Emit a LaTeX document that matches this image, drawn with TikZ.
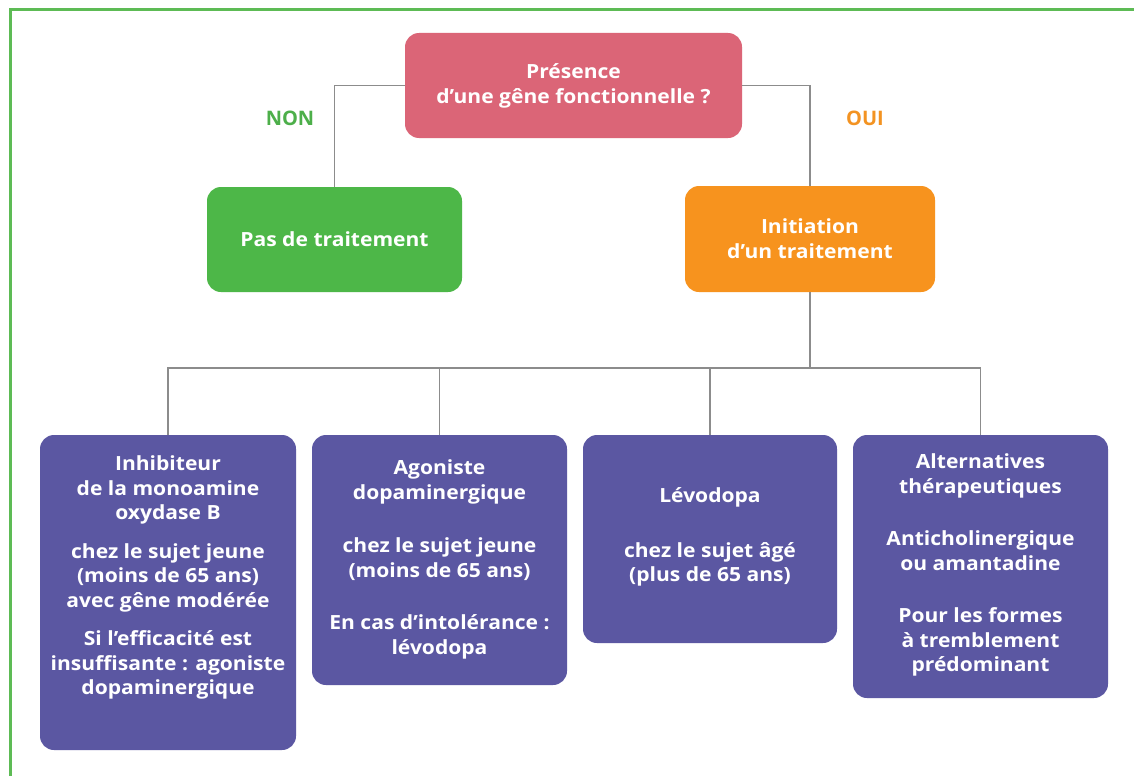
\documentclass[tikz,border=0pt]{standalone}
\usepackage{fontspec}
\setmainfont{Open Sans}
\newfontfamily\boxfont{Open Sans}[FakeStretch=1.08]
\definecolor{pinkbox}{HTML}{DB6577}
\definecolor{greenbox}{HTML}{4DB748}
\definecolor{orangebox}{HTML}{F7931E}
\definecolor{purplebox}{HTML}{5B57A2}
\definecolor{linegray}{HTML}{8C8C8C}
\definecolor{framegreen}{HTML}{5DBB55}
\definecolor{nongreen}{HTML}{4DAF4A}
\definecolor{ouiorange}{HTML}{F39322}
\begin{document}
\begin{tikzpicture}[x=1pt,y=-1pt,
  box/.style={rounded corners=14pt, inner sep=0pt, text=white, align=center,
    font=\boxfont\bfseries\fontsize{19.5}{25}\selectfont},
  topbox/.style={box, minimum width=255pt, minimum height=105pt},
  botbox/.style={box, fill=purplebox, font=\boxfont\bfseries\fontsize{19.5}{24.5}\selectfont},
  conn/.style={draw=linegray, line width=1.4pt},
  answer/.style={font=\bfseries\fontsize{20}{22}\selectfont}]
\useasboundingbox (0,0) rectangle (1134,776);
\fill[white] (0,0) rectangle (1134,776);
% frame
\draw[framegreen, line width=3pt] (10,776) -- (10,10) -- (1134,10);

% top level
\node[box, fill=pinkbox, minimum width=337pt, minimum height=105pt] (q) at (573.5,85.5)
  {Présence\\d’une gêne fonctionnelle ?};
\node[topbox, fill=greenbox] (non) at (334.5,239.5) {Pas de traitement};
\node[topbox, fill=orangebox, minimum width=250pt, minimum height=106pt] (oui) at (810,239)
  {Initiation\\d’un traitement};

\node[answer, text=nongreen] (lnon) at (290,118) {NON};
\node[answer, text=ouiorange] (loui) at (865,118) {OUI};

% bottom boxes
\node[botbox] (b1) at (168,592.5) {\parbox[c][315pt][t]{256pt}{\centering\vspace*{21pt}%
  Inhibiteur\\de la monoamine\\oxydase B\\[14pt]chez le sujet jeune\\(moins de 65 ans)\\avec gêne modérée\\[14pt]Si l’efficacité est\\insuffisante : agoniste\\dopaminergique}};
\node[botbox] (b2) at (439.5,560) {\parbox[c][250pt][t]{255pt}{\centering\vspace*{25pt}%
  Agoniste\\dopaminergique\\[29pt]chez le sujet jeune\\(moins de 65 ans)\\[28pt]En cas d’intolérance :\\lévodopa}};
\node[botbox] (b3) at (710,539) {\parbox[c][208pt][t]{254pt}{\centering\vspace*{53pt}%
  Lévodopa\\[30pt]chez le sujet âgé\\(plus de 65 ans)}};
\node[botbox] (b4) at (980.5,566.5) {\parbox[c][263pt][t]{255pt}{\centering\vspace*{19pt}%
  Alternatives\\thérapeutiques\\[28pt]Anticholinergique\\ou amantadine\\[28pt]Pour les formes\\à tremblement\\prédominant}};

% connectors
\coordinate (j) at (810,368);
\draw[conn] (q.west) -| (non.north);
\draw[conn] (q.east) -| (oui.north);
\draw[conn] (oui.south) -- (j);
\draw[conn] (b1.north) |- (j);
\draw[conn] (b4.north) |- (j);
\draw[conn] (b2.north) -- (b2.north |- j);
\draw[conn] (b3.north) -- (b3.north |- j);
\end{tikzpicture}
\end{document}
